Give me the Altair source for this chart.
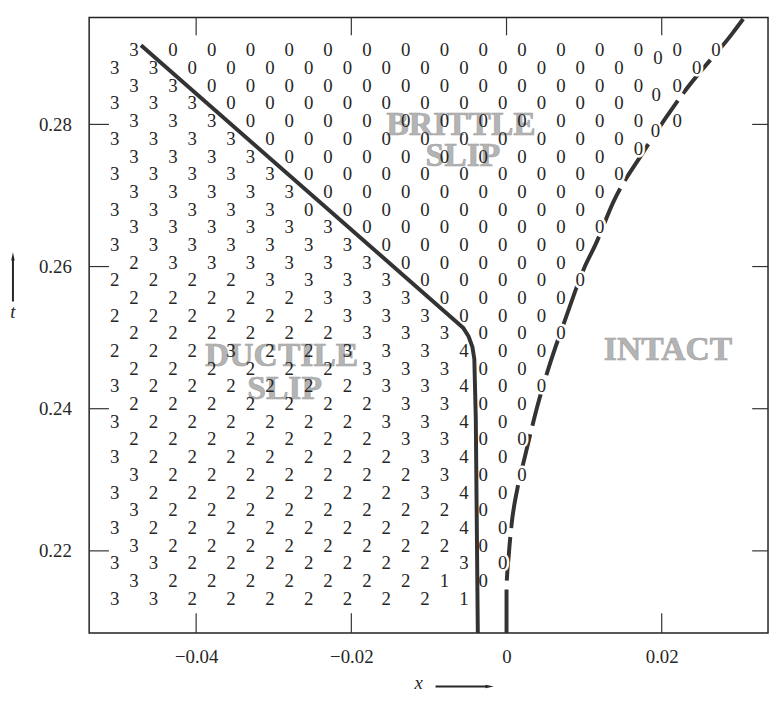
import altair as alt
import pandas as pd

# ---------------- data ----------------
# Each string is one row of the staggered grid (top row first).
# Odd rows (1st, 3rd, ...) start at the inner column, even rows at the outer one.
# "_" = no value at that grid node.
ROWS = [
    "3000000000000000",
    "33000000000000_0",
    "330000000000000",
    "33300000000000",
    "333000000000000",
    "33330000000000",
    "3333000000000",
    "33333000000000",
    "3333300000000",
    "3333300000000",
    "3333330000000",
    "3333333000000",
    "233333300000",
    "2222333300000",
    "222223330000",
    "222222333000",
    "222222333000",
    "222322333400",
    "22222233300",
    "322222233400",
    "22222223300",
    "32222223340",
    "22222223300",
    "32222222340",
    "32222222300",
    "32222222340",
    "3222222220",
    "32222222240",
    "3222222220",
    "33222222230",
    "3222222210",
    "3322222221",
]
ODD_X0 = -0.0480      # x of first node in odd rows
EVEN_X0 = -0.0505     # x of first node in even rows
COL_STEP = 0.005
ROW_T0 = 0.2904
ROW_STEP = 0.002488

# extra nodes sitting on the brittle / intact boundary
EXTRA_X = [0.0195, 0.0193, 0.0192, 0.0170]
EXTRA_T = [0.2893, 0.2841, 0.2790, 0.2766]
EXTRA_D = ["0", "0", "0", "0"]

# ductile / brittle boundary (solid)
DUCT_X = [-0.04711, -0.00560, -0.00490, -0.00440, -0.00415, -0.00396, -0.00370]
DUCT_T = [0.29114, 0.25140, 0.25020, 0.24870, 0.24700, 0.23851, 0.20844]

# brittle / intact boundary (broken)
BRIT_X = [0.0, 0.0, 0.00026, 0.00064, 0.0014, 0.0023, 0.00421, 0.00523, 0.00766,
          0.00996, 0.01149, 0.01379, 0.01762, 0.02311, 0.02911, 0.03064]
BRIT_T = [0.20844, 0.21485, 0.21902, 0.22362, 0.22877, 0.23294, 0.2413, 0.24506, 0.25285,
          0.25967, 0.26315, 0.26914, 0.2761, 0.28487, 0.29281, 0.29504]

REGION_TEXT = ["BRITTLE", "SLIP", "DUCTILE", "SLIP", "INTACT"]
REGION_X = [-0.00587, -0.00562, -0.02898, -0.0286, 0.02081]
REGION_T = [0.27986, 0.27555, 0.24742, 0.24269, 0.24826]

XTICKS = [-0.04, -0.02, 0.0, 0.02]
YTICKS = [0.22, 0.24, 0.26, 0.28]

# ---------------- build tables ----------------
recs = []
for i, row in enumerate(ROWS):
    x0 = ODD_X0 if i % 2 == 0 else EVEN_X0
    t = ROW_T0 - ROW_STEP * i
    for k, ch in enumerate(row):
        if ch != "_":
            recs.append({"x": x0 + COL_STEP * k, "t": t, "d": ch})
for x, t, d in zip(EXTRA_X, EXTRA_T, EXTRA_D):
    recs.append({"x": x, "t": t, "d": d})
digits = pd.DataFrame(recs)
halo_df = digits[(digits.d == "0") & (digits.x > -0.001)]

duct = pd.DataFrame({"x": DUCT_X, "t": DUCT_T, "i": range(len(DUCT_X))})
brit = pd.DataFrame({"x": BRIT_X, "t": BRIT_T, "i": range(len(BRIT_X))})
regions = pd.DataFrame({"x": REGION_X, "t": REGION_T, "s": REGION_TEXT})
xt = pd.DataFrame({"x": XTICKS})
yt = pd.DataFrame({"t": YTICKS})
one = pd.DataFrame({"a": [0]})

W, H = 686, 622
SERIF = "Liberation Serif"
INK = "#262626"
DIGIT_SIZE = 19

XS = alt.Scale(domain=[-0.05379, 0.0337], nice=False, zero=False)
YS = alt.Scale(domain=[0.20844, 0.29504], nice=False, zero=False)
X_AX = alt.Axis(values=XTICKS, ticks=False, tickSize=0, domain=False, grid=False,
                labelFont=SERIF, labelFontSize=19, labelColor=INK, labelPadding=24,
                labelBaseline="middle", labelFlush=False, labelOverlap=False,
                labelExpr="datum.value == 0 ? '0' : format(datum.value, '.2f')", title=None)
Y_AX = alt.Axis(values=YTICKS, ticks=False, tickSize=0, domain=False, grid=False,
                labelFont=SERIF, labelFontSize=19, labelColor=INK, labelPadding=18,
                labelFlush=False, labelOverlap=False, format=".2f", title=None)

X = alt.X("x:Q", scale=XS, axis=X_AX)
Y = alt.Y("t:Q", scale=YS, axis=Y_AX)

tick_b = alt.Chart(xt).mark_rule(color="#333", strokeWidth=1.2).encode(
    x=X, y=alt.value(H - 20), y2=alt.value(H))
tick_t = alt.Chart(xt).mark_rule(color="#333", strokeWidth=1.2).encode(
    x=X, y=alt.value(0), y2=alt.value(18))
tick_l = alt.Chart(yt).mark_rule(color="#333", strokeWidth=1.2).encode(
    y=Y, x=alt.value(0), x2=alt.value(20))
tick_r = alt.Chart(yt).mark_rule(color="#333", strokeWidth=1.2).encode(
    y=Y, x=alt.value(W - 16), x2=alt.value(W))

duct_line = alt.Chart(duct).mark_line(color="#333", strokeWidth=4, interpolate="linear",
                                      strokeJoin="round").encode(
    x=X, y=Y, order="i:Q")
brit_line = alt.Chart(brit).mark_line(color="#333", strokeWidth=4, interpolate="monotone",
                                      strokeDash=[44, 9]).encode(
    x=X, y=Y, order="i:Q")

halo = alt.Chart(halo_df).mark_text(font=SERIF, fontSize=DIGIT_SIZE, color="white",
                                    stroke="white", strokeWidth=5).encode(
    x=X, y=Y, text="d:N")

region = alt.Chart(regions).mark_text(font=SERIF, fontSize=34, fontWeight="bold",
                                      color="#b4b4b4", stroke="#a0a0a0", strokeWidth=0.6).encode(
    x=X, y=Y, text="s:N")

digit = alt.Chart(digits).mark_text(font=SERIF, fontSize=DIGIT_SIZE, color=INK).encode(
    x=X, y=Y, text="d:N")

# axis titles with arrows
t_arrow = alt.Chart(one).mark_rule(color=INK, strokeWidth=2).encode(
    x=alt.value(-77), y=alt.value(242), y2=alt.value(287))
t_head = alt.Chart(one).mark_point(shape="M0,-1.4L0.42,0.6L-0.42,0.6Z", filled=True, size=70,
                                   color=INK, opacity=1).encode(
    x=alt.value(-77), y=alt.value(243))
t_lab = alt.Chart(one).mark_text(font=SERIF, fontSize=19, fontStyle="italic", color=INK).encode(
    x=alt.value(-77), y=alt.value(298), text=alt.value("t"))
x_arrow = alt.Chart(one).mark_rule(color=INK, strokeWidth=2).encode(
    y=alt.value(676), x=alt.value(350), x2=alt.value(402))
x_head = alt.Chart(one).mark_point(shape="M1.4,0L-0.6,0.42L-0.6,-0.42Z", filled=True, size=70,
                                   color=INK, opacity=1).encode(
    x=alt.value(403), y=alt.value(676))
x_lab = alt.Chart(one).mark_text(font=SERIF, fontSize=19, fontStyle="italic", color=INK).encode(
    x=alt.value(333), y=alt.value(673), text=alt.value("x"))

chart = alt.layer(
    tick_b, tick_t, tick_l, tick_r, duct_line, brit_line, halo, region, digit,
    t_arrow, t_head, t_lab, x_arrow, x_head, x_lab
).properties(
    width=W, height=H,
    autosize=alt.AutoSizeParams(type="none"),
    padding={"left": 82, "top": 6, "right": 2, "bottom": 58},
    background="white",
).configure_view(stroke="#222", strokeWidth=1.5)

chart.save("out.html", embed_options={"renderer": "svg", "actions": False})
